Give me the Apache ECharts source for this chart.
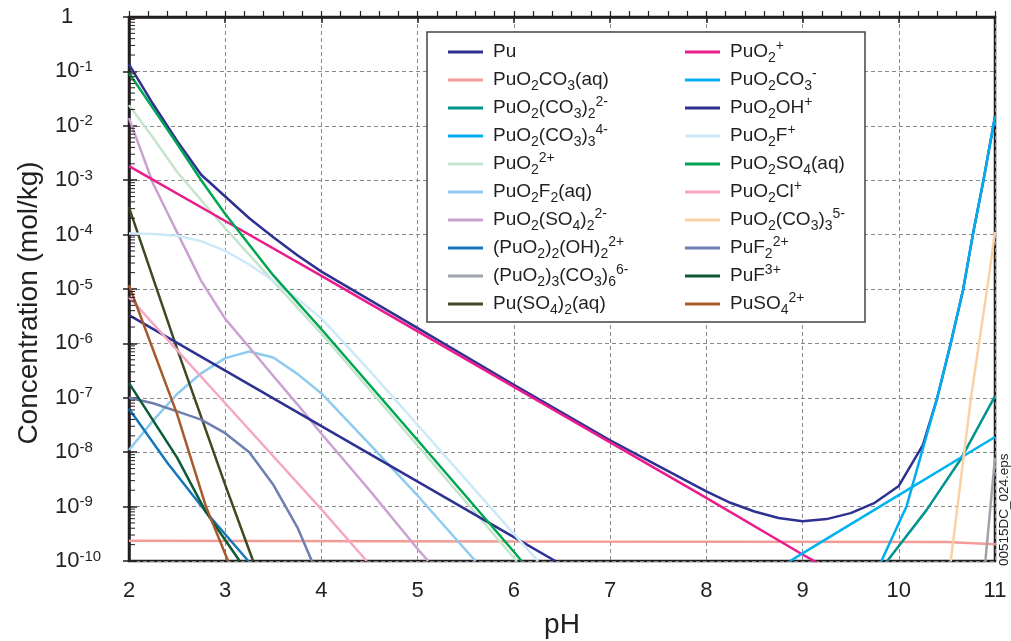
<!DOCTYPE html>
<html>
<head>
<meta charset="utf-8">
<title>Pu speciation vs pH</title>
<script src="https://cdn.jsdelivr.net/npm/echarts@6/dist/echarts.min.js"></script>
<style>
html,body{margin:0;padding:0;background:#fff;}
#chart{width:1011px;height:641px;}
</style>
</head>
<body>
<div id="chart"></div>
<script>
// values are [pH, log10(concentration mol/kg)]
var Pu = [[2,-0.87],[2.25,-1.6],[2.5,-2.28],[2.75,-2.9],[3,-3.3],[3.25,-3.7],[3.5,-4.05],[3.75,-4.38],[4,-4.68],[4.5,-5.2],[5,-5.72],[6,-6.76],[7,-7.78],[7.5,-8.25],[8,-8.72],[8.25,-8.93],[8.5,-9.09],[8.75,-9.21],[9,-9.27],[9.25,-9.23],[9.5,-9.12],[9.75,-8.93],[10,-8.62],[10.25,-7.87],[10.4,-7.0],[10.54,-6.0],[10.67,-5.0],[10.77,-4.0],[10.88,-3.0],[11,-1.83]];
var PuO2CO3aq = [[2,-9.63],[6,-9.64],[10.5,-9.65],[11,-9.69]];
var PuO2CO32 = [[9.88,-10],[10.29,-9.06],[10.64,-8.14],[11,-6.97]];
var PuO2CO33_4 = [[9.82,-10],[10.08,-9],[10.24,-8],[10.4,-7],[10.54,-6],[10.67,-5],[10.77,-4],[10.88,-3],[11,-1.83]];
var PuO2_2p = [[2,-1.62],[2.25,-2.22],[2.5,-2.85],[3,-3.88],[3.5,-4.86],[4,-5.82],[5,-7.88],[6,-9.94],[6.03,-10]];
var PuO2F2aq = [[2,-7.96],[2.25,-7.42],[2.5,-6.93],[2.75,-6.55],[3,-6.27],[3.25,-6.15],[3.5,-6.26],[3.75,-6.56],[4,-6.92],[4.5,-7.85],[5,-8.8],[5.6,-10]];
var PuO2SO42 = [[2,-1.86],[2.25,-3.06],[2.5,-3.96],[2.75,-4.85],[3,-5.55],[3.25,-6.07],[3.5,-6.6],[3.75,-7.12],[4,-7.66],[4.5,-8.7],[5,-9.78],[5.11,-10]];
var PuO22OH2 = [[2,-7.2],[2.4,-8.2],[2.8,-9.1],[3.24,-10]];
var PuO23CO36 = [[10.9,-10],[11,-8.1]];
var PuSO42aq = [[2,-3.5],[2.5,-6.1],[3,-8.6],[3.29,-10]];
var PuO2_p = [[2,-2.74],[3,-3.75],[4,-4.76],[5,-5.78],[6,-6.8],[7,-7.82],[8,-8.84],[9,-9.88],[9.15,-10.03]];
var PuO2CO3_m = [[8.87,-10],[9,-9.86],[10,-8.79],[11,-7.72]];
var PuO2OH = [[2,-5.48],[3,-6.5],[4,-7.52],[5,-8.54],[6,-9.56],[6.43,-10]];
var PuO2F = [[2,-3.98],[2.25,-3.99],[2.5,-4.02],[2.75,-4.12],[3,-4.3],[3.25,-4.55],[3.5,-4.85],[3.75,-5.18],[4,-5.54],[4.5,-6.5],[5,-7.5],[5.5,-8.5],[6,-9.5],[6.25,-10]];
var PuO2SO4aq = [[2,-1.03],[2.25,-1.68],[2.5,-2.33],[2.75,-3.0],[3,-3.62],[3.5,-4.75],[4,-5.74],[5,-7.78],[6,-9.83],[6.08,-10]];
var PuO2Cl = [[2,-5.15],[3,-7.1],[4,-9.05],[4.47,-10]];
var PuO2CO33_5 = [[10.54,-10],[10.75,-7.0],[10.93,-4.85],[11,-3.95]];
var PuF2 = [[2,-7.0],[2.25,-7.1],[2.5,-7.25],[2.75,-7.4],[3,-7.65],[3.25,-8.0],[3.5,-8.6],[3.75,-9.38],[3.9,-10]];
var PuF3 = [[2,-6.73],[2.5,-8.1],[2.8,-9.1],[3.15,-10]];
var PuSO4 = [[2,-4.93],[2.5,-7.3],[2.8,-9.0],[3.03,-10]];

var seriesNames = ['Pu','PuO2CO3(aq)','PuO2(CO3)2 2-','PuO2(CO3)3 4-','PuO2 2+','PuO2F2(aq)','PuO2(SO4)2 2-','(PuO2)2(OH)2 2+','(PuO2)3(CO3)6 6-','Pu(SO4)2(aq)',
	'PuO2 +','PuO2CO3 -','PuO2OH+','PuO2F+','PuO2SO4(aq)','PuO2Cl+','PuO2(CO3)3 5-','PuF2 2+','PuF3+','PuSO4 2+'];
var seriesData = [Pu,PuO2CO3aq,PuO2CO32,PuO2CO33_4,PuO2_2p,PuO2F2aq,PuO2SO42,PuO22OH2,PuO23CO36,PuSO42aq,
	PuO2_p,PuO2CO3_m,PuO2OH,PuO2F,PuO2SO4aq,PuO2Cl,PuO2CO33_5,PuF2,PuF3,PuSO4];
var seriesColors = ['#2e3192','#f39b96','#00948f','#00aeef','#c6e5cd','#8ecbef','#c9a2d0','#1777bd','#9ea4aa','#3e4a22',
	'#ec1b8c','#00b3ee','#2e3192','#cde9f8','#00a651','#f4a8c4','#f8d1a6','#6c7fae','#0c5b36','#a5592d'];
// legend text with sub/superscripts
var legendLabels = ['Pu','PuO{s|2}CO{s|3}(aq)','PuO{s|2}(CO{s|3}){s|2}{p|2-}','PuO{s|2}(CO{s|3}){s|3}{p|4-}','PuO{s|2}{p|2+}',
	'PuO{s|2}F{s|2}(aq)','PuO{s|2}(SO{s|4}){s|2}{p|2-}','(PuO{s|2}){s|2}(OH){s|2}{p|2+}','(PuO{s|2}){s|3}(CO{s|3}){s|6}{p|6-}','Pu(SO{s|4}){s|2}(aq)',
	'PuO{s|2}{p|+}','PuO{s|2}CO{s|3}{p|-}','PuO{s|2}OH{p|+}','PuO{s|2}F{p|+}','PuO{s|2}SO{s|4}(aq)',
	'PuO{s|2}Cl{p|+}','PuO{s|2}(CO{s|3}){s|3}{p|5-}','PuF{s|2}{p|2+}','PuF{p|3+}','PuSO{s|4}{p|2+}'];

// y axis runs in decades: log10 of mol/kg, from 1e-10 to 1
var decadeMin = -10;
var decadeMax = 0;
var minorFactors = [2, 3, 4, 5, 6, 7, 8, 9];

var FONT = '"Liberation Sans", Arial, Helvetica, sans-serif';
var INK = '#231f20';

var series = [];
for (var i = 0; i < seriesNames.length; i++) {
	series.push({
		name: seriesNames[i],
		type: 'line',
		data: seriesData[i],
		symbol: 'none',
		clip: true,
		lineStyle: {color: seriesColors[i], width: 2.5},
		itemStyle: {color: seriesColors[i]}
	});
}

// log minor ticks on the left axis, placed through the y scale
var minorTicks = [];
for (var d = decadeMin; d < decadeMax; d++) {
	for (var m = 0; m < minorFactors.length; m++) minorTicks.push([2, d + Math.log(minorFactors[m]) / Math.LN10]);
}
series.push({
	type: 'custom',
	name: 'minor',
	data: minorTicks,
	clip: false,
	silent: true,
	z: 5,
	renderItem: function (params, api) {
		var p = api.coord([api.value(0), api.value(1)]);
		return {
			type: 'line',
			shape: {x1: p[0], y1: p[1], x2: p[0] + 6, y2: p[1]},
			style: {stroke: INK, lineWidth: 1}
		};
	}
});

var labelMap = {};
for (var k = 0; k < seriesNames.length; k++) labelMap[seriesNames[k]] = legendLabels[k];

var legendText = {
	fontFamily: FONT,
	fontSize: 19,
	color: INK,
	lineHeight: 26,
	padding: [0, 0, 0, 5],
	rich: {
		s: {fontFamily: FONT, fontSize: 14, color: INK, lineHeight: 14, verticalAlign: 'bottom'},
		p: {fontFamily: FONT, fontSize: 14, color: INK, lineHeight: 14, verticalAlign: 'top'}
	}
};

function legendFor(names, left) {
	return {
		orient: 'vertical',
		left: left,
		top: 34,
		itemGap: 2,
		itemWidth: 35,
		itemHeight: 3,
		icon: 'rect',
		selectedMode: false,
		z: 60,
		data: names,
		textStyle: legendText,
		formatter: function (name) { return labelMap[name]; }
	};
}

var chart = echarts.init(document.getElementById('chart'), null, {renderer: 'canvas'});
var option = {
	animation: false,
	backgroundColor: '#fff',
	grid: {left: 129, right: 16, top: 17, bottom: 80, outerBoundsMode: 'none', containLabel: false,
		show: true, borderColor: INK, borderWidth: 2.5, backgroundColor: 'transparent'},
	legend: [legendFor(seriesNames.slice(0, 10), 443), legendFor(seriesNames.slice(10), 680)],
	xAxis: [{
		type: 'value',
		min: 2,
		max: 11,
		interval: 1,
		name: 'pH',
		nameLocation: 'middle',
		nameGap: 50,
		nameTextStyle: {fontFamily: FONT, fontSize: 28, color: INK},
		axisLine: {lineStyle: {color: INK, width: 2.5}},
		axisTick: {inside: false, length: 6, lineStyle: {color: INK, width: 1.5}},
		axisLabel: {fontFamily: FONT, fontSize: 22, color: INK, margin: 19},
		splitLine: {show: true, lineStyle: {color: '#8a8a8a', type: [4, 3], width: 1}}
	}, {
		type: 'value',
		position: 'bottom',
		min: 2,
		max: 11,
		interval: 0.2,
		axisLine: {show: false},
		axisTick: {inside: true, length: 6, lineStyle: {color: INK, width: 1.2}},
		axisLabel: {show: false},
		splitLine: {show: false}
	}],
	yAxis: [{
		type: 'value',
		min: decadeMin,
		max: decadeMax,
		interval: 1,
		name: 'Concentration (mol/kg)',
		nameLocation: 'middle',
		nameGap: 86,
		nameTextStyle: {fontFamily: FONT, fontSize: 28, color: INK, padding: [0, 28, 0, 0]},
		axisLine: {show: true, lineStyle: {color: INK, width: 2.5}},
		axisTick: {inside: true, length: 8, lineStyle: {color: INK, width: 1.5}},
		axisLabel: {
			align: 'left',
			margin: 74,
			color: INK,
			formatter: function (v) {
				var e = Math.round(v);
				if (e === 0) return '{one|1}';
				return '{b|10}{p|' + e + '}';
			},
			rich: {
				one: {fontFamily: FONT, fontSize: 22, color: INK, lineHeight: 24, padding: [0, 0, 0, 6]},
				b: {fontFamily: FONT, fontSize: 22, color: INK, lineHeight: 24},
				p: {fontFamily: FONT, fontSize: 15, color: INK, lineHeight: 15, verticalAlign: 'top'}
			}
		},
		splitLine: {show: true, lineStyle: {color: '#8a8a8a', type: [4, 3], width: 1}}
	}, {
		// major ticks poking outside the axis
		type: 'value',
		position: 'left',
		min: decadeMin,
		max: decadeMax,
		interval: 1,
		axisLine: {show: false},
		axisLabel: {show: false},
		splitLine: {show: false},
		axisTick: {show: true, inside: false, length: 6, lineStyle: {color: INK, width: 1.5}}
	}],
	graphic: [{
		type: 'rect',
		z: 50,
		shape: {x: 427, y: 32, width: 438, height: 290},
		style: {fill: '#fff', stroke: '#444', lineWidth: 1.5}
	}, {
		type: 'text',
		z: 50,
		x: 1004,
		y: 566,
		rotation: Math.PI / 2,
		style: {text: '00515DC_024.eps', fontFamily: FONT, fontSize: 13.5, fill: INK, align: 'left', verticalAlign: 'middle'}
	}],
	series: series
};
chart.setOption(option);
</script>
</body>
</html>
